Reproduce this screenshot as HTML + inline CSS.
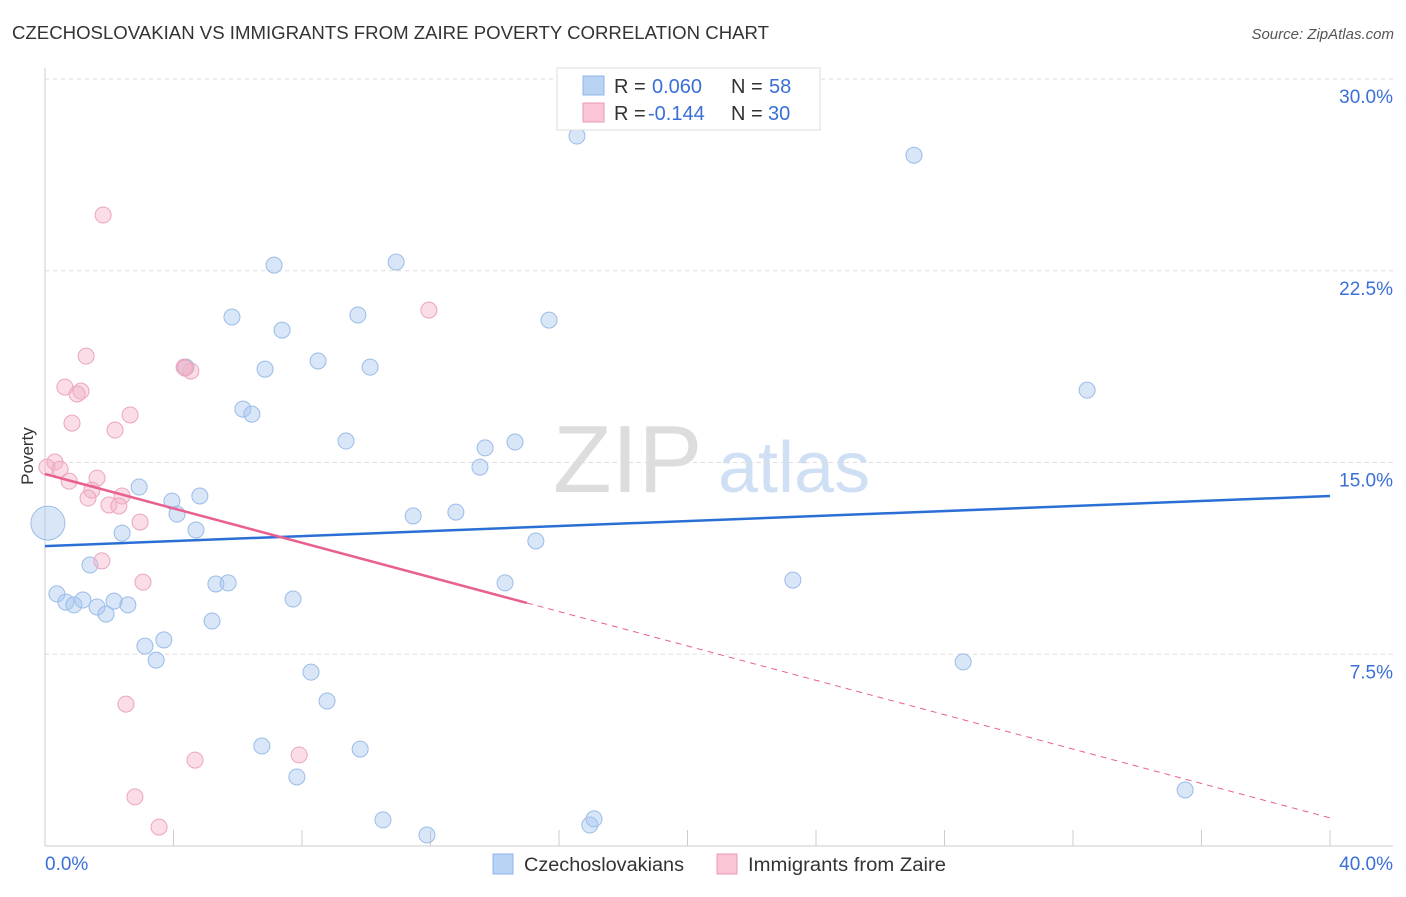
<!DOCTYPE html>
<html><head><meta charset="utf-8">
<style>
body{margin:0;background:#fff;font-family:"Liberation Sans",sans-serif;}
svg text{font-family:"Liberation Sans",sans-serif;}
</style></head>
<body>
<svg id="chart" width="1406" height="892">
<text x="12" y="39" font-size="18" fill="#333" textLength="757" lengthAdjust="spacingAndGlyphs">CZECHOSLOVAKIAN VS IMMIGRANTS FROM ZAIRE POVERTY CORRELATION CHART</text>
<text x="1394" y="39" font-size="15" fill="#555" font-style="italic" text-anchor="end">Source: ZipAtlas.com</text>
<g>
<text x="553" y="492" font-size="96" font-family="Liberation Serif" fill="#ddd">ZIP</text>
<text x="718" y="492" font-size="72" fill="#cfe0f5">atlas</text>
</g>
<g id="grid"></g>
<g id="axes"></g>
<g id="marks"></g>
<text x="33" y="456" font-size="17" fill="#333" text-anchor="middle" transform="rotate(-90 33 456)">Poverty</text>
<g>
<rect x="557" y="68" width="263" height="62" fill="#fff" stroke="#ddd"/>
<rect x="583" y="76" width="21" height="19" fill="#b9d3f5" stroke="#8fb4e6"/>
<rect x="583" y="103" width="21" height="19" fill="#fac6d6" stroke="#ea9ab5"/>
<text x="614" y="93" font-size="20" fill="#333">R =<tspan x="652" fill="#3a6fd8">0.060</tspan><tspan x="731">N =</tspan><tspan x="769" fill="#3a6fd8">58</tspan></text>
<text x="614" y="120" font-size="20" fill="#333">R =<tspan x="648" fill="#3a6fd8">-0.144</tspan><tspan x="731">N =</tspan><tspan x="768" fill="#3a6fd8">30</tspan></text>
</g>
<g>
<rect x="493" y="854" width="20" height="20" fill="#b9d3f5" stroke="#8fb4e6"/>
<text x="524" y="871" font-size="19" fill="#333" textLength="160" lengthAdjust="spacingAndGlyphs">Czechoslovakians</text>
<rect x="717" y="854" width="20" height="20" fill="#fac6d6" stroke="#ea9ab5"/>
<text x="748" y="871" font-size="19" fill="#333" textLength="198" lengthAdjust="spacingAndGlyphs">Immigrants from Zaire</text>
</g>
</svg>
<script>
const yTicks=[7.5,15,22.5,30];
const yTickLabels=["7.5%","15.0%","22.5%","30.0%"];
const xTicks=[0,4,8,12,16,20,24,28,32,36,40];
const blueX=[16.56,27.05,7.13,10.93,5.82,7.38,9.74,15.69,6.85,8.50,10.12,4.39,32.44,6.16,6.44,9.37,13.70,14.63,13.54,2.93,3.95,4.82,4.11,11.46,12.79,4.70,2.40,15.28,1.40,5.32,5.70,14.32,23.28,0.37,0.65,0.90,1.18,1.62,1.90,2.15,2.58,7.72,5.20,3.11,3.70,3.46,8.28,28.58,8.78,6.75,9.81,7.84,35.49,10.52,11.89,16.96,17.09,0.09];
const blueY=[27.77,27.02,22.72,22.84,20.69,20.18,20.77,20.57,18.65,18.97,18.73,18.73,17.83,17.09,16.89,15.84,15.57,15.80,14.82,14.04,13.49,13.69,12.98,12.91,13.06,12.36,12.24,11.93,10.99,10.25,10.29,10.29,10.40,9.86,9.54,9.43,9.62,9.35,9.07,9.58,9.43,9.66,8.80,7.82,8.06,7.27,6.80,7.20,5.67,3.91,3.79,2.70,2.19,1.02,0.43,0.82,1.06,12.63];
const pinkX=[1.81,1.28,11.95,4.33,4.54,0.62,1.12,1.00,2.65,0.84,2.18,0.31,0.06,0.47,0.75,1.62,1.46,1.34,2.40,1.99,2.30,2.96,1.77,3.05,2.52,4.67,7.91,2.80,3.55,4.36];
const pinkY=[24.68,19.16,20.96,18.73,18.58,17.95,17.79,17.68,16.86,16.54,16.27,15.02,14.82,14.74,14.27,14.39,13.92,13.61,13.69,13.34,13.30,12.67,11.15,10.32,5.55,3.36,3.56,1.92,0.74,18.69];
const blueTrend=[11.73,13.69];
const pinkTrend=[14.55,1.10];
const pinkSolidEnd=15.0;
const NS="http://www.w3.org/2000/svg";
const X0=45,X1=1330,Y0=846,YTOP=79;
function sx(v){return X0+v/40*(X1-X0);}
function sy(v){return Y0-v/30*(Y0-YTOP);}
function mk(tag,attrs,parent){const e=document.createElementNS(NS,tag);for(const k in attrs)e.setAttribute(k,attrs[k]);parent.appendChild(e);return e;}
const grid=document.getElementById('grid'),axes=document.getElementById('axes'),marks=document.getElementById('marks');
yTicks.forEach((t,i)=>{
 const l=mk('line',{x1:X0,x2:1393,y1:sy(t),y2:sy(t),stroke:'#ddd','stroke-dasharray':'4,4'},grid);
 
 
 const tx=mk('text',{x:1393,y:sy(t)+24,'font-size':19,fill:'#3a6fd8','text-anchor':'end'},axes);
 tx.textContent=yTickLabels[i];
 
 
});
const ax=mk('line',{x1:X0,x2:X0,y1:68,y2:Y0,stroke:'#ccc'},axes);


const bx=mk('line',{x1:X0,x2:1393,y1:Y0,y2:Y0,stroke:'#ccc'},axes);


xTicks.forEach(t=>{const l=mk('line',{x1:sx(t),x2:sx(t),y1:830,y2:Y0,stroke:'#ccc'},axes);
 
 });
const xl=mk('text',{x:45,y:870,'font-size':19,fill:'#3a6fd8'},axes);xl.textContent='0.0%';


const xr=mk('text',{x:1393,y:870,'font-size':19,fill:'#3a6fd8','text-anchor':'end'},axes);xr.textContent='40.0%';


blueX.forEach((v,i)=>{const big=i===blueX.length-1;
 const c=mk('circle',{cx:sx(v),cy:sy(blueY[i]),r:big?17:8,fill:'rgba(169,200,240,0.45)',stroke:'#9bbce8','stroke-width':1},marks);
 
 });
pinkX.forEach((v,i)=>{
 const c=mk('circle',{cx:sx(v),cy:sy(pinkY[i]),r:8,fill:'rgba(244,179,200,0.45)',stroke:'#eca5bd','stroke-width':1},marks);
 
 });
const bl=mk('line',{x1:sx(0),y1:sy(blueTrend[0]),x2:sx(40),y2:sy(blueTrend[1]),stroke:'#2b6fd6','stroke-width':2.5},marks);


const pm=pinkTrend[0]+(pinkTrend[1]-pinkTrend[0])*pinkSolidEnd/40;
const pl=mk('line',{x1:sx(0),y1:sy(pinkTrend[0]),x2:sx(pinkSolidEnd),y2:sy(pm),stroke:'#e8608f','stroke-width':2.5},marks);


const pd=mk('line',{x1:sx(pinkSolidEnd),y1:sy(pm),x2:sx(40),y2:sy(pinkTrend[1]),stroke:'#e8608f','stroke-width':1,'stroke-dasharray':'6,5'},marks);


</script>
</body></html>
